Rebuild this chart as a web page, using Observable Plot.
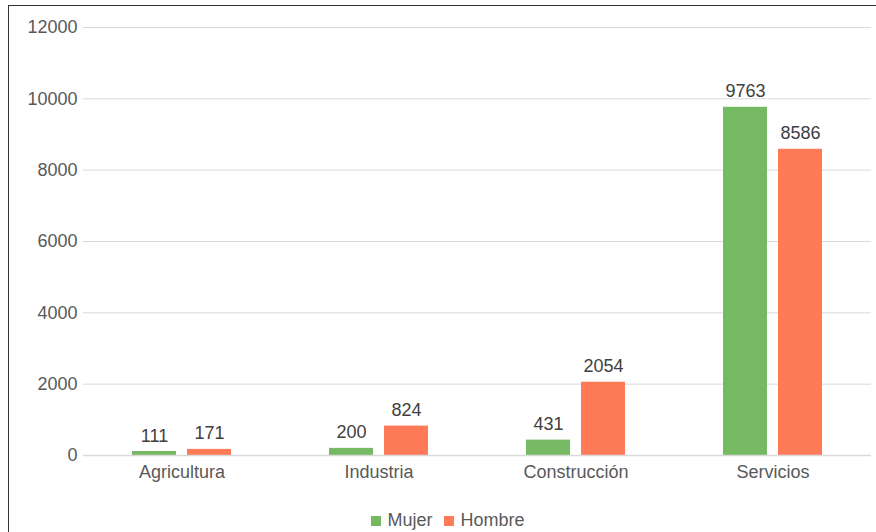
<!DOCTYPE html>
<html>
<head>
<meta charset="utf-8">
<script src="https://cdn.jsdelivr.net/npm/d3@7"></script>
<script src="https://cdn.jsdelivr.net/npm/@observablehq/plot@0.6"></script>
<style>
  html, body { margin: 0; padding: 0; background: #fff; overflow: hidden; }
  body { width: 876px; height: 532px; position: relative; font-family: "Liberation Sans", Arial, sans-serif; }
  #frame { position: absolute; left: 8px; top: 5px; width: 1000px; height: 800px; border-left: 1.5px solid #333; border-top: 1.5px solid #333; }
  #chart { position: absolute; left: 0; top: 0; }
  #legend { position: absolute; top: 510px; left: 0; width: 896px; display: flex; justify-content: center; gap: 12px; font-size: 18px; color: #595959; }
  .item { display: flex; align-items: center; gap: 6px; }
  .sw { width: 10px; height: 10px; display: inline-block; }
</style>
</head>
<body>
<div id="frame"></div>
<div id="chart"></div>
<div id="legend"></div>
<script>
const categories = ["Agricultura", "Industria", "Construcción", "Servicios"];
const series = ["Mujer", "Hombre"];
const mujer = [111, 200, 431, 9763];
const hombre = [171, 824, 2054, 8586];
const yTicks = [0, 2000, 4000, 6000, 8000, 10000, 12000];
const colors = ["#76b963", "#ff7b57"];

const rows = [];
categories.forEach((c, i) => {
  rows.push({cat: c, sex: "Mujer", value: mujer[i]});
  rows.push({cat: c, sex: "Hombre", value: hombre[i]});
});

const chart = Plot.plot({
  width: 876,
  height: 500,
  marginLeft: 83,
  marginRight: 5,
  marginTop: 27,
  marginBottom: 45,
  style: {fontFamily: '"Liberation Sans", Arial, sans-serif', fontSize: "18px", color: "#595959", background: "transparent"},
  facet: {data: rows, x: "cat"},
  fx: {domain: categories, padding: 0, axis: "bottom", label: null, tickSize: 0, tickPadding: 10},
  x: {domain: series, axis: null, paddingInner: 0.196, paddingOuter: 0.857},
  y: {domain: [0, 12000], ticks: yTicks, tickSize: 0, tickPadding: 6, label: null, tickFormat: d3.format("d")},
  color: {domain: series, range: colors},
  marks: [
    Plot.ruleY(yTicks.filter(d => d > 0), {stroke: "#d9d9d9", strokeWidth: 1}),
    Plot.barY(rows, {x: "sex", y: "value", fill: "sex"}),
    Plot.ruleY([0], {stroke: "#d9d9d9", strokeWidth: 1.5}),
    Plot.text(rows, {x: "sex", y: "value", text: d => String(d.value), dy: -10, lineAnchor: "bottom", fill: "#404040", fontSize: 18})
  ]
});
document.getElementById("chart").appendChild(chart);

const legend = document.getElementById("legend");
series.forEach((s, i) => {
  const it = document.createElement("span");
  it.className = "item";
  const sw = document.createElement("span");
  sw.className = "sw";
  sw.style.background = colors[i];
  it.appendChild(sw);
  it.appendChild(document.createTextNode(s));
  legend.appendChild(it);
});
</script>
</body>
</html>
